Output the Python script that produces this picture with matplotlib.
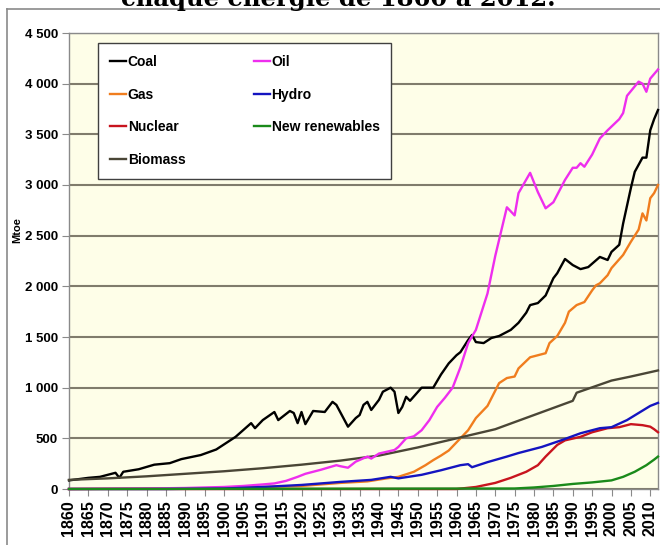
import matplotlib
matplotlib.use("Agg")
import matplotlib.pyplot as plt
from matplotlib.lines import Line2D
from matplotlib.ticker import FuncFormatter

# values (Mtoe)
coal_years = [1860, 1865, 1868, 1872, 1873, 1874, 1878, 1882, 1886, 1889, 1894, 1898, 1900,
              1903, 1907, 1908, 1910, 1913, 1914, 1917, 1918, 1919, 1920, 1921, 1923, 1926,
              1928, 1929, 1932, 1934, 1935, 1936, 1937, 1938, 1940, 1941, 1943, 1944, 1945,
              1946, 1947, 1948, 1951, 1954, 1956, 1958, 1960, 1961, 1963, 1964, 1965, 1967,
              1969, 1971, 1974, 1976, 1978, 1979, 1981, 1983, 1985, 1986, 1988, 1990, 1992,
              1994, 1997, 1999, 2000, 2002, 2003, 2005, 2006, 2008, 2009, 2010, 2011, 2012]
coal_vals = [85, 110, 120, 160, 110, 170, 195, 240, 255, 295, 335, 390, 440,
             515, 650, 600, 680, 760, 680, 770, 750, 650, 760, 640, 770, 760,
             860, 830, 615, 700, 730, 830, 860, 780, 880, 960, 1000, 960, 750,
             810, 910, 870, 1000, 1000, 1130, 1240, 1320, 1350, 1470, 1520, 1450, 1440,
             1490, 1510, 1570, 1640, 1740, 1815, 1835, 1910, 2080, 2130, 2270, 2210, 2170,
             2190, 2290, 2260, 2340, 2410, 2620, 2970, 3130, 3270, 3270, 3540, 3650, 3740]

oil_years = [1860, 1880, 1890, 1900, 1905, 1910, 1913, 1916, 1919, 1921, 1925, 1929, 1930,
             1932, 1934, 1937, 1938, 1940, 1944, 1945, 1947, 1949, 1951, 1953, 1955, 1957,
             1959, 1961, 1963, 1965, 1968, 1970, 1972, 1973, 1975, 1976, 1979, 1981, 1983,
             1985, 1988, 1990, 1991, 1992, 1993, 1995, 1997, 1999, 2002, 2003, 2004, 2007,
             2008, 2009, 2010, 2012]
oil_vals = [0, 5, 10, 20, 30, 45, 55, 80, 120, 150, 190, 235, 225,
            210, 270, 320, 300, 350, 385, 415, 500, 520, 580, 680, 810, 900,
            1000, 1200, 1440, 1570, 1930, 2300, 2620, 2780, 2700, 2920, 3120, 2930, 2770,
            2830, 3050, 3170, 3170, 3215, 3180, 3300, 3460, 3540, 3650, 3710, 3880, 4020,
            4000, 3920, 4050, 4140]

gas_years = [1860, 1885, 1900, 1920, 1930, 1937, 1942, 1945, 1949, 1952, 1954, 1956, 1958,
             1960, 1963, 1965, 1968, 1971, 1973, 1975, 1976, 1979, 1983, 1984, 1986, 1988,
             1989, 1991, 1993, 1995, 1996, 1997, 1999, 2000, 2003, 2005, 2007, 2008, 2009,
             2010, 2011, 2012]
gas_vals = [0, 5, 10, 30, 60, 75, 105, 120, 170, 235, 285, 330, 380,
            460, 580, 700, 820, 1045, 1095, 1110, 1190, 1300, 1340, 1440, 1510, 1640,
            1750, 1815, 1845, 1960, 2010, 2030, 2110, 2180, 2310, 2440, 2560, 2720, 2650,
            2870, 2920, 3000]

hydro_years = [1860, 1885, 1900, 1910, 1920, 1930, 1938, 1943, 1945, 1951, 1956, 1961, 1963,
               1964, 1968, 1973, 1976, 1982, 1987, 1992, 1997, 2000, 2004, 2007, 2010, 2012]
hydro_vals = [0, 0, 5, 20, 40, 70, 90, 120, 105, 140, 185, 235, 245,
              215, 265, 320, 355, 415, 480, 550, 600, 610, 680, 750, 820, 850]

nuclear_years = [1860, 1960, 1965, 1970, 1974, 1978, 1981, 1983, 1986, 1988, 1992, 1995,
                 1999, 2002, 2005, 2008, 2010, 2011, 2012]
nuclear_vals = [0, 0, 20, 60, 110, 170, 235, 320, 435, 480, 515, 560,
                600, 610, 640, 630, 615, 590, 560]

renew_years = [1860, 1975, 1980, 1985, 1990, 1995, 2000, 2003, 2006, 2009, 2011, 2012]
renew_vals = [0, 5, 15, 30, 50, 65, 85, 120, 170, 235, 290, 320]

biomass_years = [1860, 1870, 1880, 1890, 1900, 1910, 1920, 1930, 1940, 1950, 1960, 1970,
                 1980, 1990, 1991, 2000, 2005, 2012]
biomass_vals = [90, 105, 125, 150, 175, 205, 240, 280, 330, 410, 500, 590,
                730, 870, 950, 1070, 1110, 1170]

series = [
    ("Coal", coal_years, coal_vals, "#000000"),
    ("Gas", gas_years, gas_vals, "#f07d1e"),
    ("Nuclear", nuclear_years, nuclear_vals, "#c8141e"),
    ("Biomass", biomass_years, biomass_vals, "#4a4636"),
    ("Oil", oil_years, oil_vals, "#ee2eee"),
    ("Hydro", hydro_years, hydro_vals, "#1414c0"),
    ("New renewables", renew_years, renew_vals, "#1a8a1a"),
]

sans = "Liberation Sans"
grey = "#8a8a8a"

fig = plt.figure(figsize=(6.6, 5.45), dpi=100)
ax = fig.add_axes([69 / 660, 56 / 545, 589 / 660, 456 / 545])
ax.set_facecolor("#fefee8")

for name, xs, ys, col in series:
    ax.plot(xs, ys, color=col, lw=1.7, label=name, clip_on=False, zorder=3)

ax.set_xlim(1860, 2012)
ax.set_ylim(0, 4500)
ax.set_yticks(range(0, 4501, 500))
ax.set_xticks(range(1860, 2011, 5))
ax.yaxis.set_major_formatter(FuncFormatter(lambda v, p: f"{int(v):,}".replace(",", " ")))
ax.grid(axis="y", color="#807c6c", lw=1.5, zorder=1)
ax.set_axisbelow(True)

for s in ax.spines.values():
    s.set_color(grey)
    s.set_linewidth(1.0)

ax.tick_params(axis="y", direction="out", length=5, color=grey, pad=3)
ax.tick_params(axis="x", direction="out", length=5, color=grey, pad=3)
for t in ax.get_yticklabels():
    t.set_family(sans)
    t.set_fontweight("bold")
    t.set_fontsize(9.5)
for t in ax.get_xticklabels():
    t.set_family(sans)
    t.set_fontweight("bold")
    t.set_fontsize(11.5)
    t.set_rotation(90)

fig.text(17 / 660, 1 - 230 / 545, "Mtoe", rotation=90, ha="center", va="center",
         family=sans, fontweight="bold", fontsize=8)

leg = ax.legend(ncol=2, loc="upper left", bbox_to_anchor=(0.049, 0.978), borderaxespad=0,
                fancybox=False, framealpha=1, edgecolor="#404040",
                prop={"family": sans, "weight": "bold", "size": 10},
                handlelength=1.2, handletextpad=0.1, columnspacing=4.9,
                labelspacing=1.35, borderpad=0.85)
leg.get_frame().set_linewidth(1.0)
leg.set_zorder(5)

# outer frame of the original picture (only top and left edges visible)
fig.add_artist(Line2D([7 / 660, 7 / 660], [0, 1 - 9 / 545], color=grey, lw=1.2))
fig.add_artist(Line2D([7 / 660, 1], [1 - 9 / 545, 1 - 9 / 545], color=grey, lw=1.2))

fig.text(338 / 660, 1 - 6 / 545, "chaque énergie de 1860 à 2012.", ha="center", va="baseline",
         family="DejaVu Serif", fontweight="bold", fontsize=17.5)

fig.savefig("out.png", dpi=100)
